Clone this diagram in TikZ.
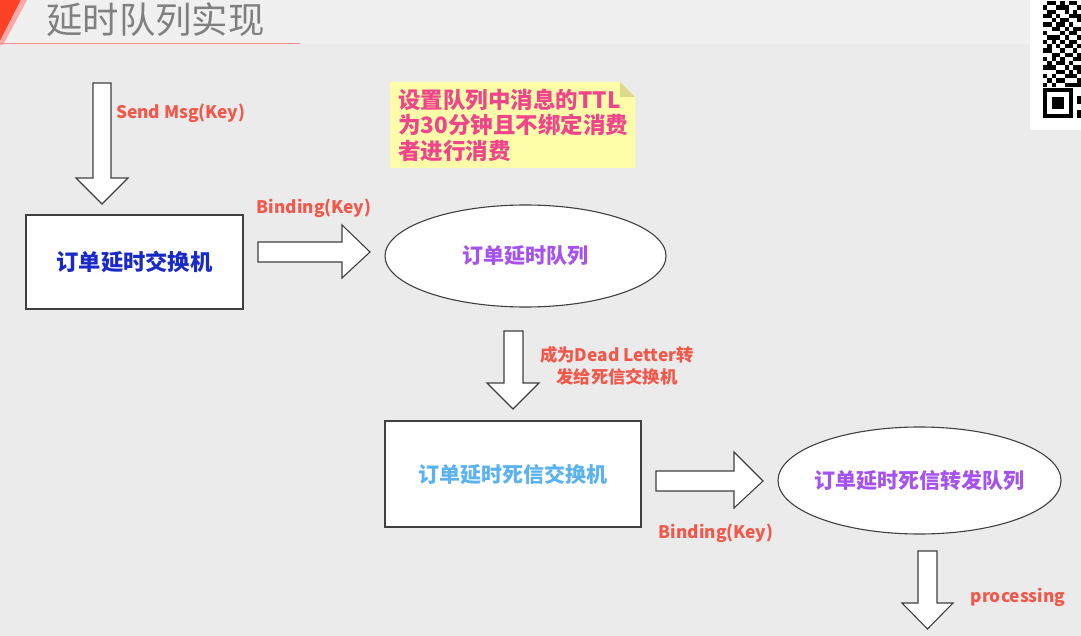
\documentclass[tikz,border=0pt]{standalone}
\usepackage{fontspec}
\setmainfont{Noto Sans CJK SC}
\usetikzlibrary{shapes.geometric}
\definecolor{bg}{HTML}{EBEBEB}
\definecolor{bgtop}{HTML}{F0F0F0}
\definecolor{lbl}{HTML}{F2584A}
\definecolor{pinktxt}{HTML}{F0458C}
\definecolor{bluetxt}{HTML}{1A2AC8}
\definecolor{lbluetxt}{HTML}{5AB2F0}
\definecolor{purptxt}{HTML}{A552F0}
\definecolor{notefill}{HTML}{FDFCA8}
\definecolor{notefold}{HTML}{DCD98C}
\definecolor{outl}{HTML}{404040}
\definecolor{titlegray}{HTML}{808080}
\tikzset{
  barrow/.style={fill=white, draw=outl, line width=1.1pt, line join=miter},
  boxst/.style={draw=outl, fill=white, line width=1.1pt, inner sep=0pt},
  ellst/.style={ellipse, draw=outl, fill=white, line width=1.1pt, inner sep=0pt},
  lblst/.style={text=lbl, font=\bfseries\fontsize{17.3}{22}\selectfont, inner sep=0pt},
  boxtxt/.style={font=\bfseries\fontsize{21}{25}\selectfont},
}
\begin{document}
\begin{tikzpicture}[x=1pt,y=-1pt]
\useasboundingbox (0,0) rectangle (1081,636);
\fill[bg] (0,0) rectangle (1081,636);
\fill[bgtop] (0,0) rectangle (1081,44);
% title decoration
\fill[red!75!orange!85] (0,0) -- (21,0) -- (0,41) -- cycle;
\fill[red!35] (21,0) -- (27,0) -- (3,45) -- (0,45) -- (0,41) -- cycle;
\draw[line width=1.5pt, color=red!45] (0,43.5) -- (300,43.5);
\node[text=titlegray, font=\fontsize{36.4}{40}\selectfont, anchor=west, inner sep=0pt] (title) at (46,20) {延时队列实现};
% QR code card
\fill[white] (1030,0) rectangle (1081,130);
\foreach \r/\cs in {0/{1,2,4,6,7},1/{0,3,4,5,8},2/{1,2,5,7},3/{0,1,3,6,7,8},4/{2,4,5,8},5/{0,1,3,4,6},6/{2,3,5,7,8},7/{0,4,6,7},8/{1,2,3,5,8},9/{0,2,4,6,7},10/{1,3,5,6,8},11/{0,1,4,7},12/{2,3,5,6,8},13/{0,2,4,7,8},14/{1,3,4,6},15/{0,1,2,5,7,8},16/{3,4,6,8},17/{0,2,5,6,7},18/{1,3,4,8},19/{0,2,5,6,7,8}}{
  \foreach \c in \cs {
    \fill[black] ({1043+\c*4.3},{1+\r*4.3}) rectangle ++(4.3,4.3);
  }
}
\fill[black] (1043,88) rectangle (1073,118);
\fill[white] (1047.3,92.3) rectangle (1068.7,113.7);
\fill[black] (1051.6,96.6) rectangle (1064.4,109.4);
\fill[black] (1077,96) rectangle (1081,104);
\fill[black] (1077,110) rectangle (1081,118);
% note
\fill[notefill] (390,82) -- (620,82) -- (635,97) -- (635,168) -- (390,168) -- cycle;
\fill[notefold] (620,82) -- (620,97) -- (635,97) -- cycle;
\node[text=pinktxt, font=\bfseries\fontsize{22.5}{25.8}\selectfont, anchor=north west, align=left, inner sep=0pt] (note) at (398,88.5) {设置队列中消息的TTL\\为30分钟且不绑定消费\\者进行消费};
% nodes
\node[boxst, minimum width=217pt, minimum height=94pt] (ex1) at (134.5,262) {};
\node[boxtxt, text=bluetxt, font=\bfseries\fontsize{22.3}{26}\selectfont] (ex1t) at (ex1.center) {订单延时交换机};
\node[ellst, minimum width=281pt, minimum height=102pt] (q1) at (525.5,256) {};
\node[boxtxt, text=purptxt] (q1t) at (q1.center) {订单延时队列};
\node[boxst, minimum width=256pt, minimum height=106pt] (ex2) at (513,474) {};
\node[boxtxt, text=lbluetxt] (ex2t) at (ex2.center) {订单延时死信交换机};
\node[ellst, minimum width=283pt, minimum height=107pt] (q2) at (919.5,480.5) {};
\node[boxtxt, text=purptxt] (q2t) at (q2.center) {订单延时死信转发队列};
% block arrows
\draw[barrow] (93,83) -- (111,83) -- (111,178) -- (128,178) -- (102,204) -- (76,178) -- (93,178) -- cycle;
\draw[barrow] (258,242) -- (342,242) -- (342,225) -- (370,252) -- (342,278) -- (342,262) -- (258,262) -- cycle;
\draw[barrow] (504,331) -- (523,331) -- (523,383) -- (539,383) -- (513,409) -- (487,383) -- (504,383) -- cycle;
\draw[barrow] (656,471) -- (734,471) -- (734,452) -- (763,481) -- (734,508) -- (734,491) -- (656,491) -- cycle;
\draw[barrow] (918,551) -- (937,551) -- (937,603) -- (953,603) -- (927.5,629) -- (902,603) -- (918,603) -- cycle;
% labels
\node[lblst, anchor=west] (l1) at (116,113) {Send Msg(Key)};
\node[lblst] (l2) at (314,208) {Binding(Key)};
\node[lblst, align=center] (l3) at (617,366) {成为Dead Letter转\\发给死信交换机};
\node[lblst] (l4) at (716,533) {Binding(Key)};
\node[lblst] (l5) at (1018,597) {processing};
\end{tikzpicture}
\end{document}
